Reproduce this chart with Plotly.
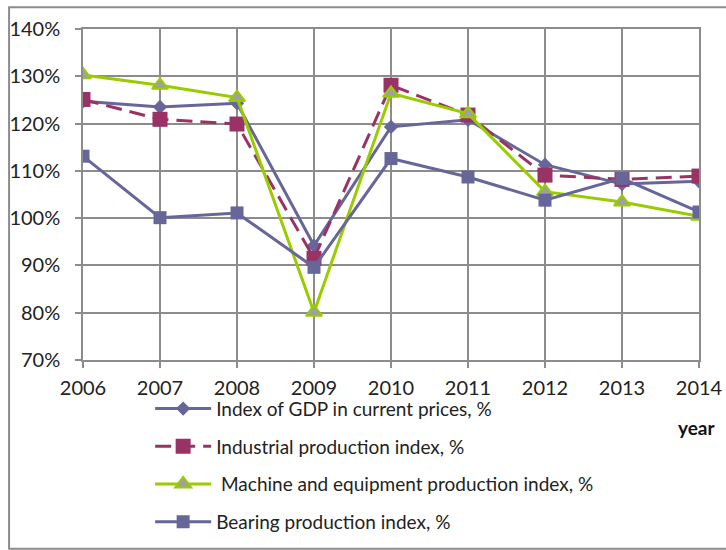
import plotly.graph_objects as go

years = [2006, 2007, 2008, 2009, 2010, 2011, 2012, 2013, 2014]
gdp = [124.7, 123.5, 124.3, 94.2, 119.3, 120.8, 111.3, 107.2, 107.8]
industrial = [125.1, 120.9, 119.9, 91.5, 128.1, 121.8, 109.1, 108.2, 108.9]
machine = [130.3, 128.1, 125.5, 80.1, 126.4, 122.1, 105.6, 103.4, 100.4]
bearing = [113.1, 100.1, 101.1, 89.6, 112.6, 108.7, 103.8, 108.4, 101.3]
y_ticks = [70, 80, 90, 100, 110, 120, 130, 140]
y_labels = [f"{v}%" for v in y_ticks]

names = ["Index of GDP in current prices, %", "Industrial production index, %",
         " Machine and equipment production index, %", "Bearing production index, %"]

font = "Lato, 'Open Sans', sans-serif"

fig = go.Figure()
fig.add_trace(go.Scatter(x=years, y=gdp, name=names[0], mode="lines+markers",
                         legendgroup="a",
                         line=dict(color="#666699", width=3),
                         marker=dict(symbol="diamond", size=11, color="#666699")))
fig.add_trace(go.Scatter(x=years, y=industrial, name=names[1], mode="lines+markers",
                         legendgroup="b",
                         line=dict(color="#993366", width=3, dash="16px,8px"),
                         marker=dict(symbol="square", size=15, color="#993366")))
fig.add_trace(go.Scatter(x=years, y=machine, name=names[2], mode="lines+markers",
                         legendgroup="c",
                         line=dict(color="#99CC00", width=3),
                         marker=dict(symbol="triangle-up", size=14, color="#A0A0A0",
                                     line=dict(color="#99CC00", width=2))))
fig.add_trace(go.Scatter(x=years, y=bearing, name=names[3], mode="lines+markers",
                         legendgroup="d",
                         line=dict(color="#666699", width=3),
                         marker=dict(symbol="square", size=13, color="#666699")))

axis_common = dict(showgrid=True, gridcolor="#8C8C8C", gridwidth=1.5,
                   ticks="outside", ticklen=6, tickcolor="#8C8C8C", tickwidth=1.5,
                   showline=True, linecolor="#8C8C8C", linewidth=1.5, mirror=True,
                   zeroline=False, automargin=False,
                   tickfont=dict(size=20, color="#222"))

fig.update_layout(
    width=726, height=550,
    margin=dict(l=83, r=27, t=29, b=190),
    paper_bgcolor="white", plot_bgcolor="white",
    font=dict(family=font, size=20, color="#222"),
    showlegend=True,
    legend=dict(x=0.109, xref="paper", y=0.2915, yref="container",
                xanchor="left", yanchor="top",
                font=dict(size=19, color="#222"), tracegroupgap=10,
                bgcolor="rgba(0,0,0,0)", itemwidth=56),
    xaxis=dict(range=[2006, 2014], tickmode="array", tickvals=years,
               ticktext=[str(y) for y in years], ticklabelstandoff=3,
               **axis_common),
    yaxis=dict(range=[70, 140], tickmode="array", tickvals=y_ticks, ticktext=y_labels,
               ticklabelstandoff=11, **axis_common),
    shapes=[dict(type="rect", xref="paper", yref="paper",
                 x0=-0.12, x1=1.1, y0=-0.57, y1=1.066,
                 line=dict(color="#8C8C8C", width=2), layer="below")],
    annotations=[dict(text="<b>year</b>", xref="paper", yref="paper",
                      x=0.996, y=-0.2054, xanchor="center", yanchor="middle",
                      showarrow=False, font=dict(size=19, color="#111"))],
)

fig.write_html("out.html", config={"displayModeBar": False},
               post_script="document.body.style.margin='0';document.body.style.overflow='hidden';")
